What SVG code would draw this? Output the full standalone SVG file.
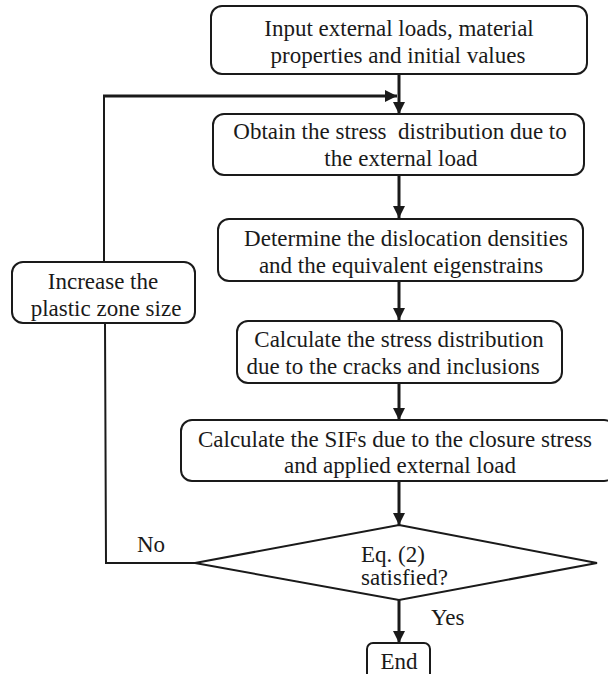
<svg xmlns="http://www.w3.org/2000/svg" width="608" height="674" viewBox="0 0 608 674">
<style>
.box{fill:#fff;stroke:#1a1a1a;stroke-width:2}
text{font-family:'Liberation Serif','Times New Roman',serif;font-size:23px;fill:#1a1a1a}
.t{text-anchor:middle}
.c{fill:none;stroke:#1a1a1a;stroke-width:3}
.c2{fill:none;stroke:#1a1a1a;stroke-width:2}
</style>
<defs>
<marker id="ah" markerWidth="12" markerHeight="12" viewBox="0 0 12 12" refX="12" refY="6" orient="auto" markerUnits="userSpaceOnUse">
<path d="M0,0 L12,6 L0,12 Z" fill="#1a1a1a"/>
</marker>
</defs>
<rect width="608" height="674" fill="#fff"/>
<g id="connectors">
<line class="c" x1="399" y1="74" x2="399" y2="114" marker-end="url(#ah)"/>
<polyline class="c2" points="104,262 104,96"/>
<line class="c" x1="103" y1="96" x2="397" y2="96" marker-end="url(#ah)"/>
<line class="c" x1="399" y1="175" x2="399" y2="218" marker-end="url(#ah)"/>
<line class="c" x1="399" y1="281" x2="399" y2="320" marker-end="url(#ah)"/>
<line class="c" x1="399" y1="383" x2="399" y2="420" marker-end="url(#ah)"/>
<line class="c" x1="399" y1="481" x2="399" y2="525" marker-end="url(#ah)"/>
<line class="c" x1="399" y1="600" x2="399" y2="643" marker-end="url(#ah)"/>
<polyline class="c2" points="195,563 106,563 105,323"/>
<text x="137" y="552">No</text>
<text x="431" y="625">Yes</text>
</g>
<g id="n1">
<rect class="box" x="211" y="6" width="376" height="68" rx="11"/>
<text class="t" x="399" y="36">Input external loads, material</text>
<text class="t" x="398" y="63">properties and initial values</text>
</g>
<g id="n2">
<rect class="box" x="213" y="114" width="371" height="61" rx="11"/>
<text class="t" x="400" y="139" xml:space="preserve">Obtain the stress  distribution due to</text>
<text class="t" x="401" y="166">the external load</text>
</g>
<g id="n3">
<rect class="box" x="218" y="219" width="365" height="62" rx="11"/>
<text class="t" x="406" y="246">Determine the dislocation densities</text>
<text class="t" x="401" y="273">and the equivalent eigenstrains</text>
</g>
<g id="n4">
<rect class="box" x="237" y="321" width="325" height="62" rx="11"/>
<text class="t" x="399" y="347">Calculate the stress distribution</text>
<text class="t" x="393" y="374">due to the cracks and inclusions</text>
</g>
<g id="n5">
<rect class="box" x="181" y="420" width="434" height="61" rx="11"/>
<text class="t" x="395" y="447">Calculate the SIFs due to the closure stress</text>
<text class="t" x="400" y="473">and applied external load</text>
</g>
<g id="n6">
<polygon class="box" points="399,525 597,563 399,600 195,563"/>
<text x="361" y="562">Eq. (2)</text>
<text x="361" y="585">satisfied?</text>
</g>
<g id="n7">
<rect class="box" x="12" y="262" width="183" height="61" rx="11"/>
<text class="t" x="103" y="289">Increase the</text>
<text class="t" x="106" y="316">plastic zone size</text>
</g>
<g id="n8">
<rect class="box" x="367" y="643" width="63" height="40" rx="6"/>
<text class="t" x="399" y="669">End</text>
</g>
</svg>
